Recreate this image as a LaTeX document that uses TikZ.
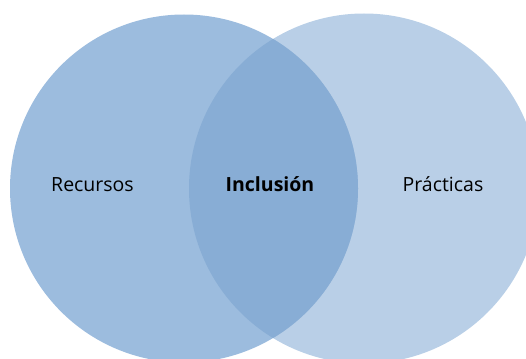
\documentclass[tikz,border=0pt]{standalone}
\usepackage{fontspec}
\setmainfont{Open Sans}
\definecolor{leftblue}{HTML}{9CBCDE}
\definecolor{rightblue}{HTML}{B9CFE7}
\definecolor{midblue}{HTML}{88ADD5}
\begin{document}
\begin{tikzpicture}[x=1pt,y=-1pt,
  lbl/.style={font=\fontsize{19.5}{22}\selectfont, text=black, inner sep=0pt, anchor=base}]
\useasboundingbox (0,0) rectangle (526,358);
\begin{scope}
\clip (0,0) rectangle (526,358);
\fill[rightblue] (364,188.5) circle (175);
\fill[leftblue] (184,188.5) circle (174);
\begin{scope}
\clip (184,188.5) circle (174);
\fill[midblue] (364,188.5) circle (175);
\end{scope}
\end{scope}
\node[lbl] (rec) at (92.5,191) {Recursos};
\node[lbl, font=\fontsize{19.5}{22}\selectfont\bfseries] (inc) at (270,191) {Inclusión};
\node[lbl] (pra) at (443,191) {Prácticas};
\end{tikzpicture}
\end{document}
